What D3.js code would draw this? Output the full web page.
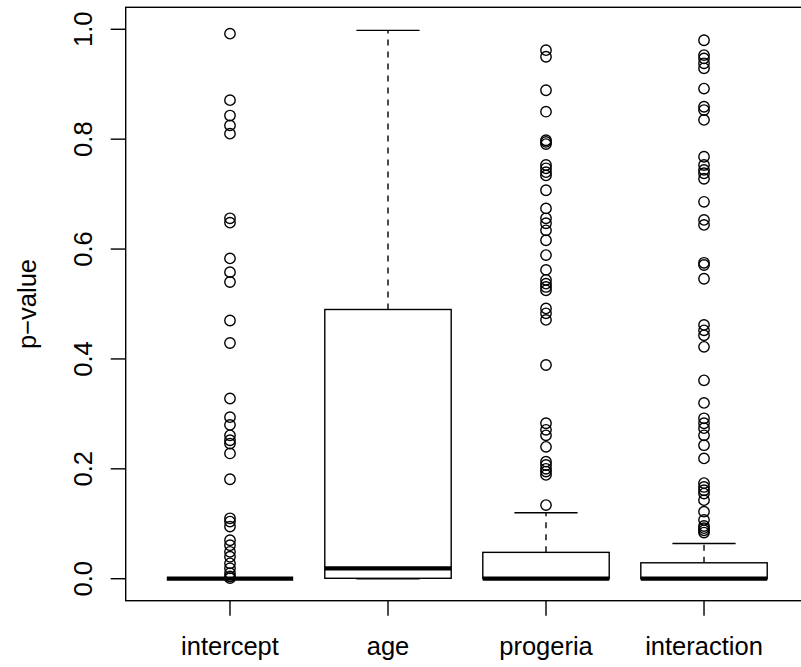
<!DOCTYPE html>
<html lang="en">
<head>
<meta charset="utf-8">
<title>p-value boxplot</title>
<script src="https://cdn.jsdelivr.net/npm/d3@7"></script>
<style type="text/css">
body{
  margin: 0;
  background: #fff;
}
text{
  font-family: "Liberation Sans", Arial, Helvetica, sans-serif;
  fill: #000;
}
</style>
</head>
<body>
<svg width="801" height="667"></svg>
<script>

// groups on the x axis
var groups = ["intercept", "age", "progeria", "interaction"];

// box statistics per group: lower whisker, q1, median, q3, upper whisker
var whiskLo = [0, 0, 0, 0];
var q1 = [0, 0.0008, 0, 0];
var median = [0, 0.019, 0, 0];
var q3 = [0, 0.49, 0.048, 0.029];
var whiskHi = [0, 0.998, 0.12, 0.064];

// outliers
var outIntercept = [0.992, 0.871, 0.843, 0.825, 0.81, 0.656, 0.648, 0.583, 0.558, 0.540,
  0.470, 0.429, 0.328, 0.294, 0.280, 0.261, 0.252, 0.246, 0.228, 0.181,
  0.110, 0.104, 0.095, 0.070, 0.061, 0.049, 0.040, 0.028, 0.019, 0.010, 0.004, 0.001];
var outAge = [];
var outProgeria = [0.962, 0.950, 0.889, 0.850, 0.798, 0.795, 0.791, 0.753, 0.747, 0.740,
  0.734, 0.707, 0.674, 0.656, 0.647, 0.634, 0.616, 0.589, 0.562, 0.544,
  0.537, 0.531, 0.525, 0.492, 0.483, 0.471, 0.389, 0.283, 0.271, 0.261,
  0.240, 0.213, 0.207, 0.200, 0.195, 0.189, 0.134];
var outInteraction = [0.980, 0.953, 0.947, 0.938, 0.929, 0.892, 0.859, 0.853, 0.835, 0.768,
  0.753, 0.744, 0.738, 0.728, 0.686, 0.653, 0.644, 0.575, 0.571, 0.546,
  0.462, 0.452, 0.443, 0.422, 0.361, 0.320, 0.292, 0.283, 0.274, 0.261,
  0.243, 0.219, 0.174, 0.167, 0.161, 0.155, 0.143, 0.122, 0.107, 0.096,
  0.092, 0.088, 0.084];
var outliers = [outIntercept, outAge, outProgeria, outInteraction];

var yTicks = [0, 0.2, 0.4, 0.6, 0.8, 1.0];

var svg = d3.select("svg");

var x = d3.scaleLinear().domain([0.34, 4.66]).range([125.7, 808.3]);
var y = d3.scaleLinear().domain([-0.04, 1.04]).range([600.7, 7.3]);

var boxHalf = (x(1.4) - x(1)) ;   // boxwex 0.8
var capHalf = boxHalf / 2;

var g = svg.append("g");

groups.forEach(function(name, i){
  var cx = x(i + 1);
  var grp = g.append("g").attr("class", "box");

  // whiskers
  grp.append("line")
    .attr("x1", cx).attr("x2", cx)
    .attr("y1", y(q3[i])).attr("y2", y(whiskHi[i]))
    .attr("stroke", "#000").attr("stroke-width", 1.4)
    .attr("stroke-dasharray", "6,6");
  grp.append("line")
    .attr("x1", cx).attr("x2", cx)
    .attr("y1", y(q1[i])).attr("y2", y(whiskLo[i]))
    .attr("stroke", "#000").attr("stroke-width", 1.4)
    .attr("stroke-dasharray", "6,6");

  // staples
  [whiskHi[i], whiskLo[i]].forEach(function(v){
    grp.append("line")
      .attr("x1", cx - capHalf).attr("x2", cx + capHalf)
      .attr("y1", y(v)).attr("y2", y(v))
      .attr("stroke", "#000").attr("stroke-width", 1.4);
  });

  // box
  grp.append("rect")
    .attr("x", cx - boxHalf)
    .attr("y", y(q3[i]))
    .attr("width", boxHalf * 2)
    .attr("height", Math.max(0, y(q1[i]) - y(q3[i])))
    .attr("fill", "none")
    .attr("stroke", "#000").attr("stroke-width", 1.4);

  // median
  grp.append("line")
    .attr("x1", cx - boxHalf).attr("x2", cx + boxHalf)
    .attr("y1", y(median[i])).attr("y2", y(median[i]))
    .attr("stroke", "#000").attr("stroke-width", 4.2);

  // outliers
  grp.selectAll("circle")
    .data(outliers[i])
    .enter().append("circle")
      .attr("cx", cx)
      .attr("cy", function(d){ return y(d); })
      .attr("r", 5.2)
      .attr("fill", "none")
      .attr("stroke", "#000")
      .attr("stroke-width", 1.4);
});

// frame
svg.append("rect")
  .attr("x", x(0.34)).attr("y", y(1.04))
  .attr("width", x(4.66) - x(0.34))
  .attr("height", y(-0.04) - y(1.04))
  .attr("fill", "none")
  .attr("stroke", "#000").attr("stroke-width", 1.4);

// y axis
var yAxis = svg.append("g").attr("transform", "translate(" + x(0.34) + ",0)");
yAxis.selectAll("line")
  .data(yTicks)
  .enter().append("line")
    .attr("x1", -15).attr("x2", 0)
    .attr("y1", function(d){ return y(d); })
    .attr("y2", function(d){ return y(d); })
    .attr("stroke", "#000").attr("stroke-width", 1.4);
yAxis.selectAll("text")
  .data(yTicks)
  .enter().append("text")
    .attr("transform", function(d){ return "translate(" + (-33.5) + "," + y(d) + ") rotate(-90)"; })
    .attr("text-anchor", "middle")
    .style("font-size", "25.5px")
    .text(function(d){ return d3.format(".1f")(d); });

// x axis
var xAxis = svg.append("g").attr("transform", "translate(0," + y(-0.04) + ")");
xAxis.selectAll("line")
  .data(groups)
  .enter().append("line")
    .attr("x1", function(d, i){ return x(i + 1); })
    .attr("x2", function(d, i){ return x(i + 1); })
    .attr("y1", 0).attr("y2", 15)
    .attr("stroke", "#000").attr("stroke-width", 1.4);
xAxis.selectAll("text")
  .data(groups)
  .enter().append("text")
    .attr("x", function(d, i){ return x(i + 1); })
    .attr("y", 54)
    .attr("text-anchor", "middle")
    .style("font-size", "25.5px")
    .text(function(d){ return d; });

// y label
svg.append("text")
  .attr("transform", "translate(36," + y(0.5) + ") rotate(-90)")
  .attr("text-anchor", "middle")
  .style("font-size", "25.5px")
  .text("p\u2212value");

</script>
</body>
</html>
